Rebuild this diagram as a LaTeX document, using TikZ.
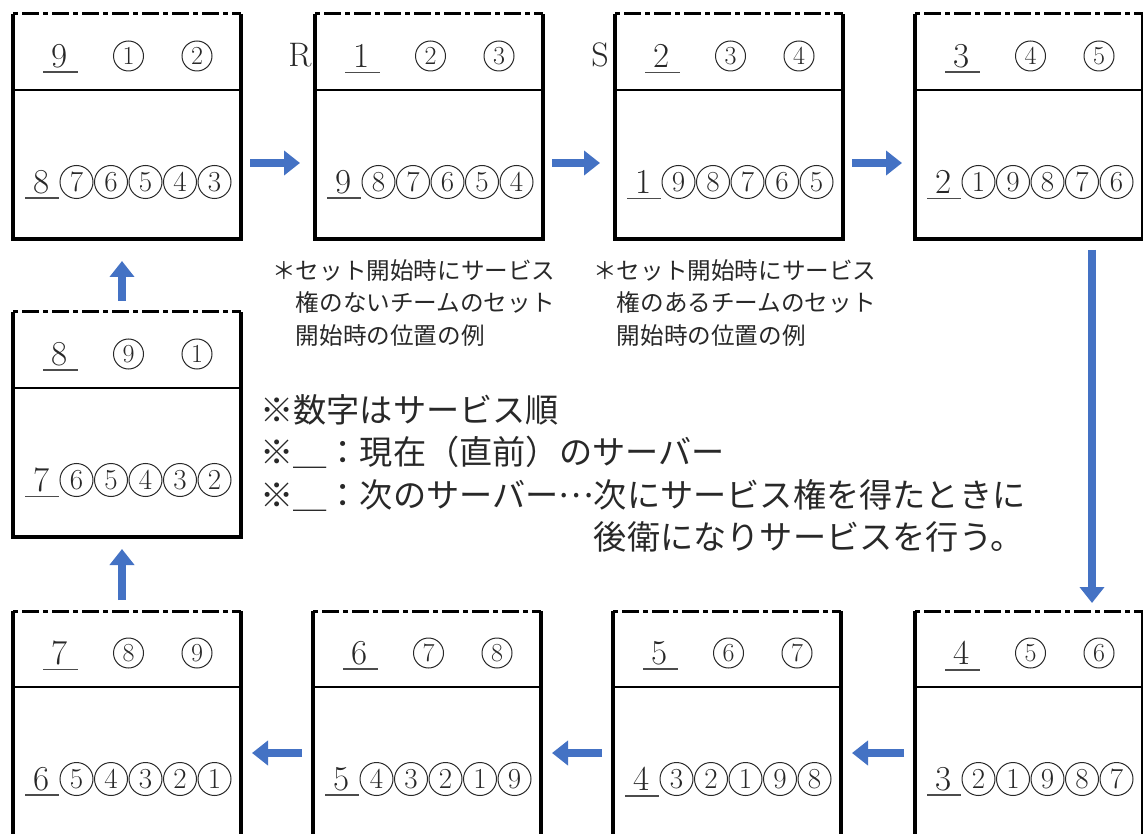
\documentclass[tikz,border=0pt]{standalone}
\usepackage{fontspec}
\newfontfamily\jp{Noto Sans CJK JP}
\usetikzlibrary{arrows.meta,calc}
\definecolor{arrblue}{RGB}{68,114,196}
\definecolor{txtgray}{RGB}{40,40,40}

\newcommand\drawcourt[1]{%
  \draw[side] (#1.north west) -- (#1.south west) -- (#1.south east) -- (#1.north east);
  \draw[netl] ($(#1.north west)+(0,76)$) -- ($(#1.north east)+(0,76)$);
  \draw[topl] (#1.north west) -- (#1.north east);}

\newcommand\courtnums[5]{%
  \node[dig] (#1f) at ($(#1.north west)+(47,42)$) {#2};
  \draw[uline] ($(#1f.base)+(-17,5)$) -- ++(35,0);
  \foreach \v [count=\i] in {#3} {\node[cdigt] (#1t\i) at ($(#1.north west)+(47+68.5*\i,42)$) {\v};}
  \node[dig] (#1b) at ($(#1.north west)+(29,168)$) {#4};
  \draw[uline] ($(#1b.base)+(-17,5)$) -- ++(34,0);
  \foreach \v [count=\i] in {#5} {\node[cdigb] (#1c\i) at ($(#1.north west)+(29+34.5*\i,168)$) {\v};}
}
\newcommand\midellip{\raisebox{0.3em}{…}}

\begin{document}
\begin{tikzpicture}[x=1pt,y=-1pt,
  court/.style={minimum width=228pt,minimum height=225pt,inner sep=0pt,outer sep=0pt},
  side/.style={line width=4pt,line join=miter},
  netl/.style={line width=2.5pt},
  topl/.style={line width=3pt,dash pattern=on 5pt off 4pt on 17pt off 4pt},
  uline/.style={line width=1.6pt,black!70},
  arr/.style={draw=arrblue,line width=7.5pt,-{Triangle[length=16pt,width=24pt]}},
  dig/.style={font=\fontsize{35}{35}\selectfont,inner sep=0pt,text=txtgray},
  cdigt/.style={circle,draw=txtgray,line width=1pt,inner sep=0pt,minimum size=30pt,font=\fontsize{26}{26}\selectfont,text=txtgray},
  cdigb/.style={circle,draw=txtgray,line width=1pt,inner sep=0pt,minimum size=33pt,font=\fontsize{29}{29}\selectfont,text=txtgray},
  lbl/.style={font=\fontsize{34}{34}\selectfont,inner sep=0pt,text=txtgray},
  anno/.style={font=\jp\fontsize{23.6}{32.5}\selectfont,align=left,inner sep=0pt,text=txtgray},
  note/.style={font=\jp\fontsize{33.2}{42.5}\selectfont,align=left,inner sep=0pt,text=txtgray}
]
\useasboundingbox (0,0) rectangle (1143,834);
\clip (0,0) rectangle (1143,834);

% courts
\node[court] (b1) at (127,126.5) {};
\node[court] (b2) at (429,126.5) {};
\node[court] (b3) at (729,126.5) {};
\node[court] (b4) at (1029,126.5) {};
\node[court] (m)  at (127,424.5) {};
\node[court] (c1) at (127,723.5) {};
\node[court] (c2) at (427,723.5) {};
\node[court] (c3) at (727,723.5) {};
\node[court] (c4) at (1029,723.5) {};

\foreach \c in {b1,b2,b3,b4,m,c1,c2,c3,c4} {\drawcourt{\c}}

\courtnums{b1}{9}{1,2}{8}{7,6,5,4,3}
\courtnums{b2}{1}{2,3}{9}{8,7,6,5,4}
\courtnums{b3}{2}{3,4}{1}{9,8,7,6,5}
\courtnums{b4}{3}{4,5}{2}{1,9,8,7,6}
\courtnums{c4}{4}{5,6}{3}{2,1,9,8,7}
\courtnums{c3}{5}{6,7}{4}{3,2,1,9,8}
\courtnums{c2}{6}{7,8}{5}{4,3,2,1,9}
\courtnums{c1}{7}{8,9}{6}{5,4,3,2,1}
\courtnums{m}{8}{9,1}{7}{6,5,4,3,2}

% side labels
\node[lbl] (R) at ($(b2.north west)+(-15,41)$) {R};
\node[lbl] (S) at ($(b3.north west)+(-15,41)$) {S};

% arrows: top row (left to right)
\draw[arr] ($(b1.north east)+(9,149)$) -- ($(b2.north west)+(-15,149)$);
\draw[arr] ($(b2.north east)+(9,149)$) -- ($(b3.north west)+(-15,149)$);
\draw[arr] ($(b3.north east)+(9,149)$) -- ($(b4.north west)+(-13,149)$);
% right side down
\draw[arr] ($(b4.south west)+(177,11)$) -- ($(c4.north west)+(177,-8)$);
% bottom row (right to left)
\draw[arr] ($(c4.north west)+(-11,142)$) -- ($(c3.north east)+(11,142)$);
\draw[arr] ($(c3.north west)+(-11,142)$) -- ($(c2.north east)+(11,142)$);
\draw[arr] ($(c2.north west)+(-11,142)$) -- ($(c1.north east)+(11,142)$);
% left side up
\draw[arr] ($(c1.north)+(-5,-11)$) -- ($(m.south)+(-5,12)$);
\draw[arr] ($(m.north)+(-5,-11)$) -- ($(b1.south)+(-5,22)$);

% annotations
\node[anno,anchor=north west] (n1) at (272,259) {＊セット開始時にサービス\\\hphantom{＊}権のないチームのセット\\\hphantom{＊}開始時の位置の例};
\node[anno,anchor=north west] (n2) at (593,259) {＊セット開始時にサービス\\\hphantom{＊}権のあるチームのセット\\\hphantom{＊}開始時の位置の例};

\node[note,anchor=north west] (n3) at (260,394) {※数字はサービス順\\※＿：現在（直前）のサーバー\\※＿：次のサーバー\midellip 次にサービス権を得たときに\\\hphantom{※＿：次のサーバー\midellip}後衛になりサービスを行う。};

\end{tikzpicture}
\end{document}
